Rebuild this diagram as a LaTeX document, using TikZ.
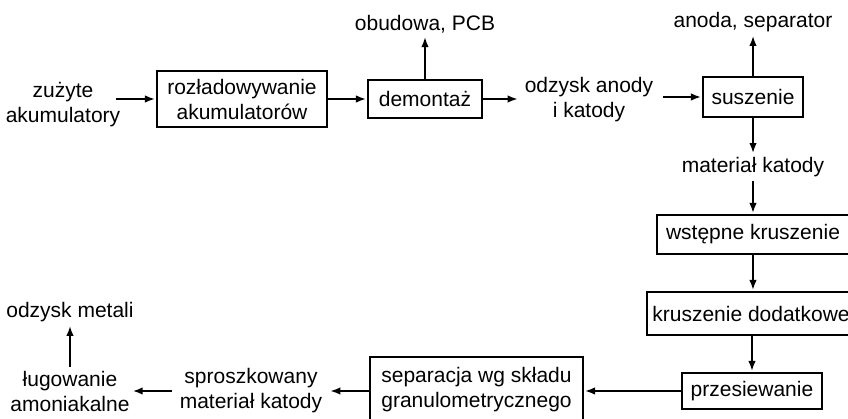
\documentclass[tikz,border=0pt]{standalone}
\usepackage{fontspec}
\setmainfont{Liberation Sans}
\usetikzlibrary{arrows.meta}
\begin{document}
\begin{tikzpicture}[x=1pt,y=-1pt,
  font=\fontsize{21}{25}\selectfont,
  box/.style={draw, line width=1.1pt, rectangle, inner sep=0pt, align=center},
  lbl/.style={inner sep=4pt, align=center},
  arr/.style={line width=1.6pt, -{Latex[length=10pt,width=7.5pt]}}]
\useasboundingbox (0,0) rectangle (848,419);
\clip (0,0) rectangle (848,419);
% nodes
\node[lbl] (zuz) at (63,105) {zużyte\\akumulatory};
\node[box, minimum width=170, minimum height=56] (b1) at (242,99) {rozładowywanie\\akumulatorów};
\node[box, minimum width=114, minimum height=38] (b2) at (425,99) {demontaż};
\node[lbl] (obud) at (425,24) {obudowa, PCB};
\node[lbl] (odz) at (589,100) {odzysk anody\\i katody};
\node[box, minimum width=100, minimum height=40] (b3) at (753,97) {suszenie};
\node[lbl] (anoda) at (753,22) {anoda, separator};
\node[lbl] (mat) at (753,167) {materiał katody};
\node[box, minimum width=192, minimum height=39] (b4) at (753,234.5) {wstępne kruszenie};
\node[box, minimum width=208, minimum height=43] (b5) at (751,313.5) {kruszenie dodatkowe};
\node[box, minimum width=140, minimum height=36] (b6) at (752,391) {przesiewanie};
\node[box, minimum width=213, minimum height=66] (b7) at (476.5,390) {separacja wg składu\\granulometrycznego};
\node[lbl] (spr) at (251,391) {sproszkowany\\materiał katody};
\node[lbl] (lug) at (70,391) {ługowanie\\amoniakalne};
\node[lbl] (met) at (70,312) {odzysk metali};
% connectors
\draw[arr, shorten >=1.5pt] ([xshift=-8pt]zuz.east |- b1.west) -- (b1.west);
\draw[arr, shorten >=1.5pt] (b1.east) -- (b2.west);
\draw[arr] (b2.north) -- (obud.south);
\draw[arr] (b2.east) -- ([xshift=-3pt]odz.west |- b2.east);
\draw[arr, shorten >=1.5pt] ([xshift=6pt]odz.east |- b3.west) -- (b3.west);
\draw[arr] (b3.north) -- (anoda.south);
\draw[arr] (b3.south) -- (mat.north);
\draw[arr, shorten >=1.5pt] (mat.south) -- (b4.north);
\draw[arr, shorten >=1.5pt] (b4.south) -- (b4.south |- b5.north);
\draw[arr, shorten >=1.5pt] (b5.south -| b6.north) -- (b6.north);
\draw[arr, shorten >=1.5pt] (b6.west) -- (b7.east |- b6.west);
\draw[arr] (b7.west |- spr.east) -- ([xshift=4pt]spr.east);
\draw[arr] ([xshift=-4pt]spr.west) -- ([xshift=-1pt]lug.east);
\draw[arr] (lug.north) -- (met.south);
\end{tikzpicture}
\end{document}
